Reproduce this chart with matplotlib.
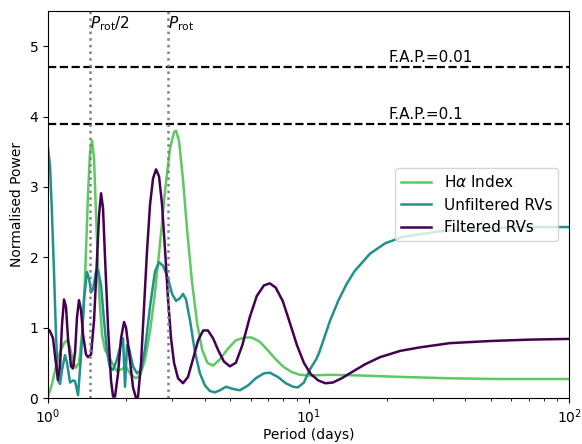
import numpy as np
import matplotlib
matplotlib.use("Agg")
import matplotlib.pyplot as plt

# periodogram traces (period in days, normalised power)
ha_period = [1.000, 1.036, 1.073, 1.112, 1.152, 1.183, 1.215, 1.247, 1.281, 1.315,
             1.351, 1.387, 1.424, 1.450, 1.476, 1.502, 1.529, 1.570, 1.612, 1.655,
             1.700, 1.761, 1.840, 1.890, 1.993, 2.083, 2.177, 2.256, 2.358, 2.464,
             2.575, 2.692, 2.814, 2.940, 3.046, 3.101, 3.184, 3.298, 3.417, 3.571,
             3.74, 3.91, 4.09, 4.30, 4.57, 4.90, 5.26, 5.69, 6.05, 6.50,
             6.97, 7.48, 8.03, 8.62, 9.24, 10.1, 12.1, 15.8, 22.5, 34.9, 54.3, 100.0]
ha_power = [0.02, 0.20, 0.45, 0.65, 0.78, 0.82, 0.72, 0.52, 0.43, 0.50,
            0.90, 1.70, 2.90, 3.50, 3.66, 3.40, 2.60, 1.50, 0.90, 0.68,
            0.62, 0.50, 0.38, 0.40, 0.44, 0.33, 0.28, 0.32, 0.55, 0.95,
            1.50, 2.20, 2.95, 3.55, 3.78, 3.80, 3.65, 3.10, 2.40, 1.65,
            1.05, 0.68, 0.50, 0.46, 0.55, 0.70, 0.82, 0.86, 0.86, 0.80,
            0.68, 0.55, 0.44, 0.37, 0.33, 0.32, 0.33, 0.32, 0.30, 0.28, 0.27, 0.27]

unf_period = [1.000, 1.018, 1.036, 1.054, 1.073, 1.092, 1.112, 1.132, 1.162, 1.183,
              1.215, 1.247, 1.270, 1.304, 1.339, 1.375, 1.411, 1.437, 1.463, 1.489,
              1.529, 1.556, 1.598, 1.641, 1.685, 1.730, 1.777, 1.840, 1.907, 1.941,
              1.975, 2.011, 2.047, 2.120, 2.196, 2.276, 2.358, 2.464, 2.575, 2.668,
              2.764, 2.889, 2.993, 3.101, 3.212, 3.298, 3.387, 3.509, 3.667, 3.83,
              4.00, 4.18, 4.37, 4.57, 4.82, 5.12, 5.45, 5.87, 6.27, 6.74,
              7.10, 7.62, 8.18, 8.72, 9.10, 9.60, 10.1, 10.7, 11.0, 12.1,
              13.0, 14.0, 15.0, 17.2, 19.7, 23.0, 32.0, 45.5, 70.7, 100.0]
unf_power = [3.55, 3.30, 2.60, 1.80, 0.90, 0.25, 0.20, 0.40, 0.61, 0.50,
             0.22, 0.25, 0.24, 0.04, 0.60, 1.40, 1.79, 1.70, 1.50, 1.55,
             1.80, 1.82, 1.60, 1.10, 0.65, 0.43, 0.40, 0.55, 0.78, 0.85,
             0.16, 0.75, 0.70, 0.45, 0.35, 0.40, 0.70, 1.30, 1.80, 1.93,
             1.88, 1.70, 1.48, 1.38, 1.42, 1.48, 1.40, 1.10, 0.65, 0.35,
             0.18, 0.10, 0.08, 0.11, 0.16, 0.13, 0.11, 0.18, 0.28, 0.35,
             0.36, 0.30, 0.21, 0.16, 0.15, 0.22, 0.40, 0.55, 0.65, 1.10,
             1.38, 1.62, 1.80, 2.05, 2.20, 2.29, 2.37, 2.41, 2.43, 2.43]

fil_period = [1.000, 1.018, 1.045, 1.064, 1.092, 1.112, 1.132, 1.152, 1.172, 1.193,
              1.226, 1.247, 1.270, 1.292, 1.315, 1.339, 1.363, 1.399, 1.424, 1.463,
              1.502, 1.543, 1.570, 1.598, 1.626, 1.655, 1.700, 1.745, 1.777, 1.808,
              1.857, 1.907, 1.958, 1.993, 2.047, 2.120, 2.177, 2.216, 2.276, 2.337,
              2.400, 2.464, 2.530, 2.598, 2.668, 2.740, 2.814, 2.889, 2.966, 3.046,
              3.156, 3.298, 3.447, 3.60, 3.77, 3.94, 4.11, 4.30, 4.50, 4.73,
              4.99, 5.26, 5.57, 5.95, 6.33, 6.74, 7.10, 7.48, 7.96, 8.46,
              9.03, 9.60, 10.2, 10.9, 11.6, 12.4, 13.4, 14.7, 16.5, 18.8,
              22.5, 26.8, 34.9, 49.8, 70.7, 100.0]
fil_power = [0.98, 0.95, 0.85, 0.60, 0.26, 0.45, 1.05, 1.40, 1.30, 0.85,
             0.45, 0.42, 0.65, 1.15, 1.39, 1.25, 0.90, 0.62, 0.58, 0.62,
             1.10, 2.00, 2.60, 2.91, 2.70, 2.00, 1.00, 0.25, 0.02, 0.02,
             0.35, 0.85, 1.08, 1.00, 0.65, 0.15, 0.00, 0.02, 0.50, 1.30,
             2.10, 2.75, 3.12, 3.25, 3.15, 2.75, 2.10, 1.40, 0.85, 0.50,
             0.28, 0.21, 0.30, 0.55, 0.82, 0.96, 0.96, 0.85, 0.68, 0.52,
             0.45, 0.50, 0.75, 1.15, 1.45, 1.60, 1.63, 1.57, 1.38, 1.08,
             0.75, 0.50, 0.34, 0.25, 0.21, 0.22, 0.28, 0.37, 0.48, 0.58,
             0.67, 0.72, 0.78, 0.81, 0.83, 0.84]

p_rot = 2.89
fap_levels = [4.7, 3.9]
fap_labels = ["F.A.P.=0.01", "F.A.P.=0.1"]

fig = plt.figure(figsize=(5.82, 4.44), dpi=100)
ax = fig.add_axes([0.0825, 0.1036, 0.8952, 0.8714])

ax.plot(ha_period, ha_power, color="#5ec962", lw=1.8, label=r"H$\alpha$ Index")
ax.plot(unf_period, unf_power, color="#21918c", lw=1.8, label="Unfiltered RVs")
ax.plot(fil_period, fil_power, color="#440154", lw=1.8, label="Filtered RVs")

for lev, lab in zip(fap_levels, fap_labels):
    ax.axhline(lev, color="k", ls="--", lw=1.6)
    ax.text(20.2, lev + 0.03, lab, ha="left", va="bottom", fontsize=11)

ax.axvline(p_rot / 2, color="grey", ls=":", lw=1.8)
ax.axvline(p_rot, color="grey", ls=":", lw=1.8)
ax.text(p_rot / 2, 5.45, r"$P_{\rm rot}/2$", ha="left", va="top", fontsize=11)
ax.text(p_rot, 5.45, r"$P_{\rm rot}$", ha="left", va="top", fontsize=11)

ax.set_xscale("log")
ax.set_xlim(1, 100)
ax.set_ylim(0, 5.5)
ax.set_xlabel("Period (days)", labelpad=1)
ax.set_ylabel("Normalised Power")
ax.legend(loc="center right", fontsize=11, borderaxespad=0.7)

fig.savefig("out.png", dpi=100)
